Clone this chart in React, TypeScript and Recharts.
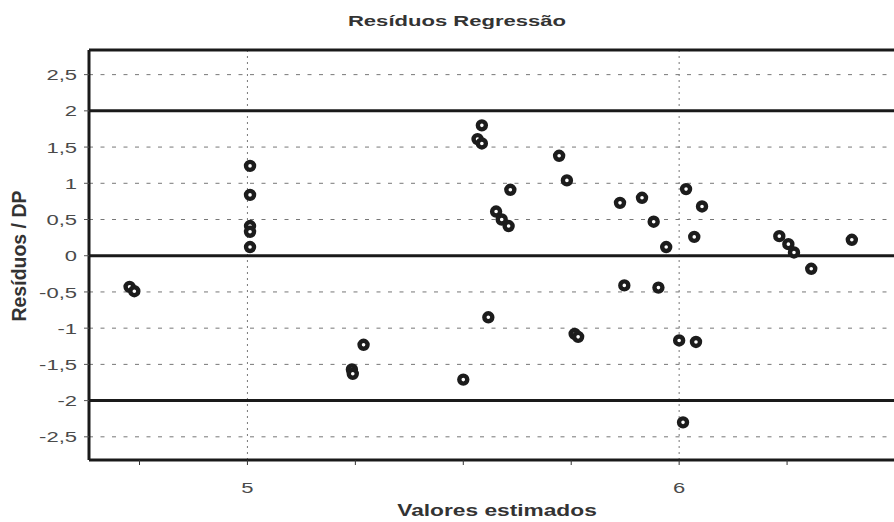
import React from "react"
import { ReferenceLine, Scatter, ScatterChart, XAxis, YAxis } from "recharts"

// fitted values (x) and standardized residuals (y)
const fitted = [
  4.727, 4.738, 5.006, 5.006, 5.006, 5.006, 5.006, 5.242, 5.244, 5.269,
  5.5, 5.533, 5.543, 5.543, 5.558, 5.576, 5.589, 5.605, 5.609, 5.722,
  5.74, 5.758, 5.766, 5.863, 5.873, 5.914, 5.941, 5.952, 5.97, 6.0,
  6.009, 6.016, 6.035, 6.039, 6.053, 6.232, 6.253, 6.266, 6.306, 6.4,
]
const residuals = [
  -0.43, -0.49, 1.24, 0.84, 0.41, 0.33, 0.12, -1.57, -1.63, -1.23,
  -1.71, 1.61, 1.55, 1.8, -0.85, 0.61, 0.5, 0.41, 0.91, 1.38,
  1.04, -1.08, -1.12, 0.73, -0.41, 0.8, 0.47, -0.44, 0.12, -1.17,
  -2.3, 0.92, 0.26, -1.19, 0.68, 0.27, 0.16, 0.045, -0.18, 0.22,
]

const xTicks = [4.75, 5, 5.25, 5.5, 5.75, 6, 6.25, 6.5]
const xLabeled = [5, 6]
const yTicks = [-2.5, -2, -1.5, -1, -0.5, 0, 0.5, 1, 1.5, 2, 2.5]
const limitLines = [-2, 0, 2]
const gridLines = [-2.5, -1.5, -1, -0.5, 0.5, 1, 1.5, 2.5]
const xGridLines = [5, 6]

const X_MIN = 4.633
const X_MAX = 6.5
const Y_MIN = -2.82
const Y_MAX = 2.84

const points = fitted.map((x, i) => ({ x, y: residuals[i] }))

const FONT = "'Liberation Sans', Arial, sans-serif"

const fmt = (v: number) => String(v).replace(".", ",")

function XTick(props: any) {
  const { x, y, payload } = props
  if (!xLabeled.includes(payload.value)) return null
  return (
    <g transform={`translate(${x},${y + 26})`}>
      <text transform="scale(1.42,1)" textAnchor="middle" fontSize={15.5} fontFamily={FONT} fill="#4a4a4a">
        {fmt(payload.value)}
      </text>
    </g>
  )
}

function YTick(props: any) {
  const { x, y, payload } = props
  return (
    <g transform={`translate(${x - 5},${y})`}>
      <text transform="scale(1.42,1)" textAnchor="end" dy="0.36em" fontSize={15.5} fontFamily={FONT} fill="#4a4a4a">
        {fmt(payload.value)}
      </text>
    </g>
  )
}

function Ring(props: any) {
  const { cx, cy } = props
  return <circle cx={cx} cy={cy} r={4} fill="#fff" stroke="#1c1c1c" strokeWidth={4.4} />
}

export default function App() {
  return (
    <div
      style={{
        position: "absolute",
        left: 0,
        top: 0,
        width: 894,
        height: 522,
        overflow: "hidden",
        background: "#fff",
        fontFamily: FONT,
      }}
    >
      <div
        style={{
          position: "absolute",
          left: 457,
          top: 13,
          fontSize: 15,
          fontWeight: "bold",
          color: "#333",
          lineHeight: 1,
          whiteSpace: "nowrap",
          transform: "translateX(-50%) scaleX(1.47)",
        }}
      >
        Resíduos Regressão
      </div>
      <div
        style={{
          position: "absolute",
          left: 497,
          top: 503,
          fontSize: 16,
          fontWeight: "bold",
          color: "#333",
          lineHeight: 1,
          whiteSpace: "nowrap",
          transform: "translateX(-50%) scaleX(1.42)",
        }}
      >
        Valores estimados
      </div>
      <div
        style={{
          position: "absolute",
          left: 20,
          top: 256,
          fontSize: 19.5,
          fontWeight: "bold",
          color: "#333",
          lineHeight: 1,
          whiteSpace: "nowrap",
          transform: "translate(-50%,-50%) rotate(-90deg)",
        }}
      >
        Resíduos / DP
      </div>
      <ScatterChart width={900} height={522} margin={{ top: 50, right: 5, bottom: 22, left: 0 }}>
        <XAxis
          type="number"
          dataKey="x"
          domain={[X_MIN, X_MAX]}
          ticks={xTicks}
          tick={<XTick />}
          tickSize={5}
          height={40}
          tickLine={{ stroke: "#333" }}
          axisLine={{ stroke: "#1a1a1a", strokeWidth: 3 }}
          allowDataOverflow
        />
        <YAxis
          type="number"
          dataKey="y"
          domain={[Y_MIN, Y_MAX]}
          ticks={yTicks}
          tick={<YTick />}
          tickSize={5}
          width={89}
          tickLine={{ stroke: "#555" }}
          axisLine={{ stroke: "#1a1a1a", strokeWidth: 3 }}
          allowDataOverflow
        />
        {gridLines.map((v) => (
          <ReferenceLine key={`g${v}`} y={v} stroke="#777" strokeDasharray="4 7.5" strokeWidth={1} />
        ))}
        {xGridLines.map((v) => (
          <ReferenceLine key={`v${v}`} x={v} stroke="#777" strokeDasharray="2 4" strokeWidth={1} />
        ))}
        {limitLines.map((v) => (
          <ReferenceLine key={`l${v}`} y={v} stroke="#1a1a1a" strokeWidth={3} />
        ))}
        <ReferenceLine y={Y_MAX} stroke="#1a1a1a" strokeWidth={3} />
        <Scatter data={points} shape={<Ring />} isAnimationActive={false} />
      </ScatterChart>
    </div>
  )
}
